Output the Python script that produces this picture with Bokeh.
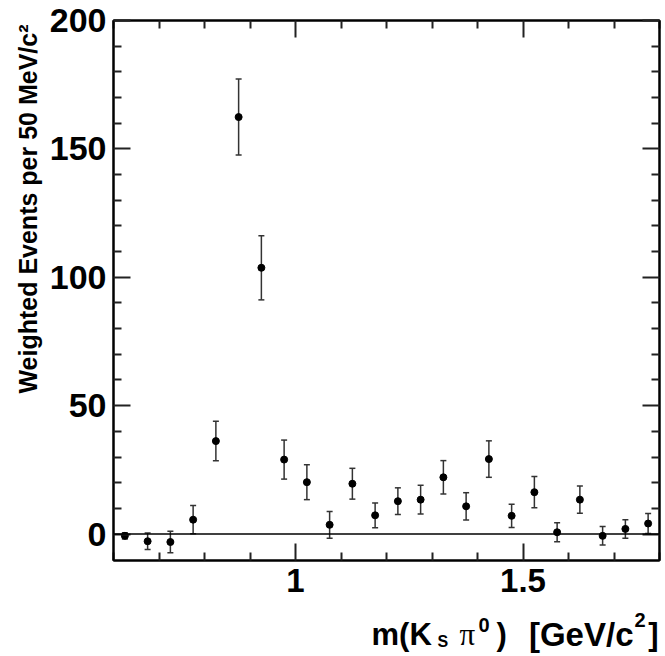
from bokeh.plotting import figure
from bokeh.layouts import column
from bokeh.models import (Range1d, LinearAxis, Span, Whisker, ColumnDataSource, Label,
                          Title, FixedTicker, CustomJSTickFormatter, TeeHead)
from bokeh.embed import file_html
from bokeh.resources import INLINE

# ---- data (bin centres in GeV/c^2, weighted events, errors) ----
mass = [0.625, 0.675, 0.725, 0.775, 0.825, 0.875, 0.925, 0.975, 1.025, 1.075, 1.125, 1.175,
        1.225, 1.275, 1.325, 1.375, 1.425, 1.475, 1.525, 1.575, 1.625, 1.675, 1.725, 1.775]
events = [-0.7, -2.8, -3.1, 5.6, 36.2, 162.4, 103.7, 29.0, 20.2, 3.6, 19.6, 7.3,
          12.8, 13.4, 22.1, 10.8, 29.2, 7.1, 16.3, 0.7, 13.4, -0.7, 2.0, 4.1]
errors = [1.2, 3.2, 4.2, 5.5, 7.7, 14.8, 12.5, 7.6, 6.8, 5.2, 6.0, 4.8,
          5.2, 5.6, 6.5, 5.3, 7.1, 4.5, 6.1, 3.7, 5.3, 3.6, 3.6, 3.9]

x_major = [1.0, 1.5]
x_minor = [0.6, 0.7, 0.8, 0.9, 1.1, 1.2, 1.3, 1.4, 1.6, 1.7, 1.8]
y_major = [0, 50, 100, 150, 200]
y_minor = [10, 20, 30, 40, 60, 70, 80, 90, 110, 120, 130, 140, 160, 170, 180, 190]

lower = [v - e for v, e in zip(events, errors)]
upper = [v + e for v, e in zip(events, errors)]
src = ColumnDataSource(dict(x=mass, y=events, lower=lower, upper=upper))

FONT = "Liberation Sans"
W = 663

p = figure(width=W, height=606, output_backend="svg", toolbar_location=None,
           x_range=Range1d(0.6, 1.8), y_range=Range1d(-10.3, 200),
           min_border_left=113, min_border_right=4, min_border_top=20, min_border_bottom=46,
           x_axis_location=None, y_axis_location=None, background_fill_color="white",
           border_fill_color="white")
p.xgrid.visible = False
p.ygrid.visible = False
p.outline_line_color = "black"
p.outline_line_width = 2

def style(ax, labels=True):
    ax.axis_line_color = "black"
    ax.axis_line_width = 2
    ax.major_tick_in = 17
    ax.major_tick_out = 0
    ax.minor_tick_in = 8
    ax.minor_tick_out = 0
    ax.major_tick_line_color = "#222222"
    ax.minor_tick_line_color = "#222222"
    ax.major_tick_line_width = 2
    ax.minor_tick_line_width = 2
    ax.major_label_text_font = FONT
    ax.major_label_text_font_style = "bold"
    ax.major_label_text_font_size = "34px"
    ax.major_label_text_color = "black"
    if not labels:
        ax.formatter = CustomJSTickFormatter(code="return ''")
        ax.major_label_standoff = 0
        ax.major_label_text_font_size = "1px"

xb = LinearAxis(ticker=FixedTicker(ticks=x_major, minor_ticks=x_minor))
xb.formatter = CustomJSTickFormatter(code="return tick == 1 ? '1' : tick.toFixed(1)")
style(xb)
xb.major_label_text_font_size = "33px"
xb.major_label_standoff = 8
p.add_layout(xb, "below")

xt = LinearAxis(ticker=FixedTicker(ticks=x_major, minor_ticks=x_minor))
style(xt, labels=False)
p.add_layout(xt, "above")

yl = LinearAxis(ticker=FixedTicker(ticks=y_major, minor_ticks=y_minor))
style(yl)
yl.major_label_standoff = 7
p.add_layout(yl, "left")

yr = LinearAxis(ticker=FixedTicker(ticks=y_major, minor_ticks=y_minor))
style(yr, labels=False)
p.add_layout(yr, "right")

ytitle = Title(text="Weighted Events per 50 MeV/c\u00b2", align="right",
               text_font=FONT, text_font_style="bold", text_font_size="25px",
               text_color="black", offset=4, standoff=9)
p.add_layout(ytitle, "left")

# zero line
p.add_layout(Span(location=0, dimension="width", line_color="black", line_width=1.5))

# error bars and points
head = dict(size=6, line_width=1.5, line_color="#333333")
p.add_layout(Whisker(base="x", upper="upper", lower="lower", source=src, dimension="height",
                     line_width=1.5, line_color="#333333",
                     upper_head=TeeHead(**head), lower_head=TeeHead(**head)))
p.scatter("x", "y", source=src, size=7, color="black")

# x-axis title strip, built from pieces (sub/superscripts); its frame aligns with p's
p2 = figure(width=W, height=48, output_backend="svg", toolbar_location=None,
            x_range=Range1d(0, 1), y_range=Range1d(0, 1),
            min_border_left=113, min_border_right=4, min_border_top=0, min_border_bottom=0,
            x_axis_location=None, y_axis_location=None, background_fill_color="white",
            border_fill_color="white")
p2.outline_line_color = None
p2.xgrid.visible = False
p2.ygrid.visible = False

def lab(text, x, y, size, font=FONT, style="bold", align="left"):
    p2.add_layout(Label(x=x, y=y, x_units="screen", y_units="screen", text=text,
                        text_font=font, text_font_style=style, text_font_size=size,
                        text_align=align, text_baseline="alphabetic", text_color="black"))

lab("m(K", 258, 20, "31px")
lab("S", 324, 13, "16px")
lab("\u03c0", 346, 20, "31px", font="Liberation Serif", style="normal")
lab("0", 365, 30, "20px")
lab(")", 383, 20, "31px")
lab("[GeV/c", 520, 20, "33px", align="right")
lab("2", 521, 35, "20px")
lab("]", 545, 20, "31px", align="right")

layout = column(p, p2, spacing=0)
open("out.html", "w").write(file_html(layout, INLINE))
